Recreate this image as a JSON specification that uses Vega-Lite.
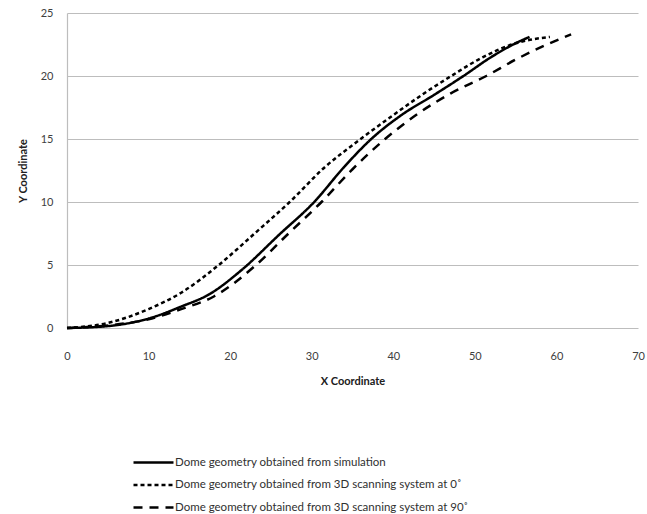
{
  "$schema": "https://vega.github.io/schema/vega-lite/v6.json",
  "autosize": "none",
  "width": 571,
  "height": 315,
  "padding": {"left": 67, "top": 13, "right": 9, "bottom": 186},
  "config": {
    "view": {"stroke": null},
    "font": "Lato",
    "axis": {"labelFont": "Lato", "titleFont": "Lato", "labelColor": "#404040", "titleColor": "#202020", "labelFontSize": 11, "titleFontSize": 11, "titleFontWeight": "bold"}
  },
  "data": {
    "values": [
      {"series": "Dome geometry obtained from simulation", "x": 0, "y": 0},
      {"series": "Dome geometry obtained from simulation", "x": 5, "y": 0.15},
      {"series": "Dome geometry obtained from simulation", "x": 10, "y": 0.75},
      {"series": "Dome geometry obtained from simulation", "x": 14, "y": 1.7},
      {"series": "Dome geometry obtained from simulation", "x": 17.5, "y": 2.7},
      {"series": "Dome geometry obtained from simulation", "x": 21.4, "y": 4.6},
      {"series": "Dome geometry obtained from simulation", "x": 26, "y": 7.4},
      {"series": "Dome geometry obtained from simulation", "x": 30.3, "y": 10},
      {"series": "Dome geometry obtained from simulation", "x": 34, "y": 12.8},
      {"series": "Dome geometry obtained from simulation", "x": 37.3, "y": 15},
      {"series": "Dome geometry obtained from simulation", "x": 41, "y": 16.9},
      {"series": "Dome geometry obtained from simulation", "x": 45, "y": 18.5},
      {"series": "Dome geometry obtained from simulation", "x": 48.6, "y": 20},
      {"series": "Dome geometry obtained from simulation", "x": 52, "y": 21.5},
      {"series": "Dome geometry obtained from simulation", "x": 55, "y": 22.6},
      {"series": "Dome geometry obtained from simulation", "x": 56.7, "y": 23.1},
      {"series": "Dome geometry obtained from 3D scanning system  at 0˚", "x": 0, "y": 0},
      {"series": "Dome geometry obtained from 3D scanning system  at 0˚", "x": 5, "y": 0.4},
      {"series": "Dome geometry obtained from 3D scanning system  at 0˚", "x": 10, "y": 1.5},
      {"series": "Dome geometry obtained from 3D scanning system  at 0˚", "x": 14, "y": 2.8},
      {"series": "Dome geometry obtained from 3D scanning system  at 0˚", "x": 18.6, "y": 5},
      {"series": "Dome geometry obtained from 3D scanning system  at 0˚", "x": 23, "y": 7.5},
      {"series": "Dome geometry obtained from 3D scanning system  at 0˚", "x": 27.3, "y": 10},
      {"series": "Dome geometry obtained from 3D scanning system  at 0˚", "x": 31.5, "y": 12.7},
      {"series": "Dome geometry obtained from 3D scanning system  at 0˚", "x": 36, "y": 15},
      {"series": "Dome geometry obtained from 3D scanning system  at 0˚", "x": 40, "y": 16.9},
      {"series": "Dome geometry obtained from 3D scanning system  at 0˚", "x": 43.5, "y": 18.5},
      {"series": "Dome geometry obtained from 3D scanning system  at 0˚", "x": 47.1, "y": 20},
      {"series": "Dome geometry obtained from 3D scanning system  at 0˚", "x": 51, "y": 21.5},
      {"series": "Dome geometry obtained from 3D scanning system  at 0˚", "x": 55, "y": 22.6},
      {"series": "Dome geometry obtained from 3D scanning system  at 0˚", "x": 59.2, "y": 23.1},
      {"series": "Dome geometry obtained from 3D scanning system  at 90˚", "x": 0, "y": 0},
      {"series": "Dome geometry obtained from 3D scanning system  at 90˚", "x": 5, "y": 0.2},
      {"series": "Dome geometry obtained from 3D scanning system  at 90˚", "x": 10, "y": 0.7},
      {"series": "Dome geometry obtained from 3D scanning system  at 90˚", "x": 14, "y": 1.5},
      {"series": "Dome geometry obtained from 3D scanning system  at 90˚", "x": 18, "y": 2.5},
      {"series": "Dome geometry obtained from 3D scanning system  at 90˚", "x": 23, "y": 4.9},
      {"series": "Dome geometry obtained from 3D scanning system  at 90˚", "x": 27, "y": 7.4},
      {"series": "Dome geometry obtained from 3D scanning system  at 90˚", "x": 31.2, "y": 10},
      {"series": "Dome geometry obtained from 3D scanning system  at 90˚", "x": 35, "y": 12.6},
      {"series": "Dome geometry obtained from 3D scanning system  at 90˚", "x": 39, "y": 15},
      {"series": "Dome geometry obtained from 3D scanning system  at 90˚", "x": 43, "y": 17},
      {"series": "Dome geometry obtained from 3D scanning system  at 90˚", "x": 47, "y": 18.6},
      {"series": "Dome geometry obtained from 3D scanning system  at 90˚", "x": 51.4, "y": 20},
      {"series": "Dome geometry obtained from 3D scanning system  at 90˚", "x": 55, "y": 21.3},
      {"series": "Dome geometry obtained from 3D scanning system  at 90˚", "x": 58.5, "y": 22.4},
      {"series": "Dome geometry obtained from 3D scanning system  at 90˚", "x": 61.8, "y": 23.3}
    ]
  },
  "mark": {"type": "line", "interpolate": "monotone", "color": "black", "strokeWidth": 2.5},
  "encoding": {
    "x": {
      "field": "x", "type": "quantitative",
      "scale": {"domain": [0, 70], "nice": false},
      "axis": {"title": "X Coordinate", "values": [0, 10, 20, 30, 40, 50, 60, 70], "grid": false, "domain": false, "ticks": false, "labelPadding": 22, "titlePadding": 14, "labelFlush": false}
    },
    "y": {
      "field": "y", "type": "quantitative",
      "scale": {"domain": [0, 25], "nice": false},
      "axis": {"title": "Y Coordinate", "values": [0, 5, 10, 15, 20, 25], "grid": true, "gridColor": "#bdbdbd", "gridWidth": 1.2, "domain": true, "domainColor": "#bdbdbd", "domainWidth": 1.2, "ticks": false, "labelPadding": 14, "titlePadding": 12}
    },
    "strokeDash": {
      "field": "series", "type": "nominal",
      "scale": {
        "domain": ["Dome geometry obtained from simulation", "Dome geometry obtained from 3D scanning system  at 0˚", "Dome geometry obtained from 3D scanning system  at 90˚"],
        "range": [[1, 0], [4, 3], [9, 7]]
      },
      "legend": {
        "title": null, "orient": "none", "legendX": 80, "legendY": 443,
        "symbolType": "M-4,0H4", "symbolSize": 100, "symbolStrokeWidth": 2.5, "symbolStrokeColor": "black",
        "labelFont": "Lato", "labelFontSize": 11.5, "labelColor": "#303030", "labelLimit": 500,
        "rowPadding": 10.5, "labelOffset": 15
      }
    }
  }
}
